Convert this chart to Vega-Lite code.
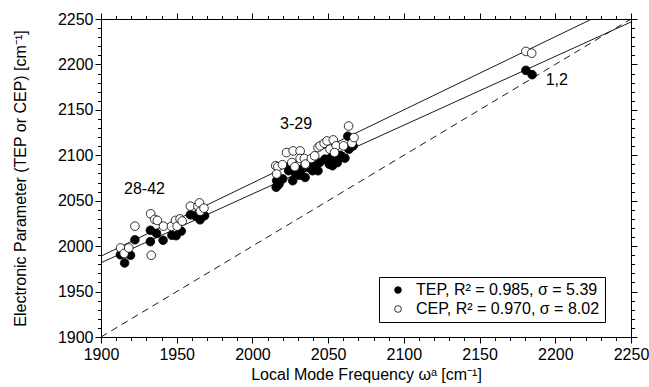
{
  "$schema": "https://vega.github.io/schema/vega-lite/v6.json",
  "width": 530,
  "height": 318,
  "autosize": "none",
  "padding": {"left": 101, "top": 19, "right": 18, "bottom": 50},
  "config": {
    "font": "Liberation Sans",
    "view": {"stroke": null},
    "axis": {"grid": false, "domainColor": "black", "tickColor": "black", "labelColor": "black", "titleColor": "black", "labelFontSize": 16, "titleFontSize": 16, "titleFontWeight": "normal", "labelFlush": false, "labelOverlap": false, "labelBound": false, "domainWidth": 1, "tickWidth": 1, "format": "d"}
  },
  "datasets": {
    "diag": [{"x": 1900, "y": 1900}, {"x": 2250, "y": 2250}],
    "fits": [
      {"s": "TEP", "x": 1900, "y": 1981.7},
      {"s": "TEP", "x": 2250, "y": 2246.7},
      {"s": "CEP", "x": 1900, "y": 1989},
      {"s": "CEP", "x": 2224.2, "y": 2250}
    ],
    "pts": [
      {"s": "TEP", "x": 1912.8, "y": 1990.5},
      {"s": "TEP", "x": 1915.6, "y": 1981.5},
      {"s": "TEP", "x": 1919.5, "y": 1990},
      {"s": "TEP", "x": 1922.4, "y": 2007},
      {"s": "TEP", "x": 1932.6, "y": 2005},
      {"s": "TEP", "x": 1932.6, "y": 2017.5},
      {"s": "TEP", "x": 1936.7, "y": 2014},
      {"s": "TEP", "x": 1941, "y": 2006.5},
      {"s": "TEP", "x": 1946.8, "y": 2012},
      {"s": "TEP", "x": 1949.6, "y": 2011.5},
      {"s": "TEP", "x": 1953, "y": 2016.5},
      {"s": "TEP", "x": 1959, "y": 2034.5},
      {"s": "TEP", "x": 1962.6, "y": 2033},
      {"s": "TEP", "x": 1965.4, "y": 2029},
      {"s": "TEP", "x": 1968.4, "y": 2033.5},
      {"s": "TEP", "x": 2015.7, "y": 2064.8},
      {"s": "TEP", "x": 2016, "y": 2072},
      {"s": "TEP", "x": 2017.5, "y": 2068},
      {"s": "TEP", "x": 2020, "y": 2074},
      {"s": "TEP", "x": 2023.9, "y": 2083},
      {"s": "TEP", "x": 2024.7, "y": 2088},
      {"s": "TEP", "x": 2026.6, "y": 2072},
      {"s": "TEP", "x": 2028, "y": 2081},
      {"s": "TEP", "x": 2031, "y": 2078},
      {"s": "TEP", "x": 2032.9, "y": 2085},
      {"s": "TEP", "x": 2034.8, "y": 2075.7},
      {"s": "TEP", "x": 2037, "y": 2086.7},
      {"s": "TEP", "x": 2039.7, "y": 2083},
      {"s": "TEP", "x": 2041.1, "y": 2088.5},
      {"s": "TEP", "x": 2043.3, "y": 2083},
      {"s": "TEP", "x": 2044.4, "y": 2092},
      {"s": "TEP", "x": 2047.9, "y": 2095.8},
      {"s": "TEP", "x": 2050.7, "y": 2090.3},
      {"s": "TEP", "x": 2052, "y": 2097.6},
      {"s": "TEP", "x": 2052.9, "y": 2088.5},
      {"s": "TEP", "x": 2054.2, "y": 2095.8},
      {"s": "TEP", "x": 2056.1, "y": 2092},
      {"s": "TEP", "x": 2058, "y": 2100},
      {"s": "TEP", "x": 2061.1, "y": 2096.9},
      {"s": "TEP", "x": 2063, "y": 2121},
      {"s": "TEP", "x": 2063.8, "y": 2106.7},
      {"s": "TEP", "x": 2066.5, "y": 2110.4},
      {"s": "TEP", "x": 2180.6, "y": 2193.5},
      {"s": "TEP", "x": 2184.7, "y": 2188.7},
      {"s": "CEP", "x": 1912.9, "y": 1998},
      {"s": "CEP", "x": 1915.3, "y": 1992},
      {"s": "CEP", "x": 1918.3, "y": 1998},
      {"s": "CEP", "x": 1922.4, "y": 2022},
      {"s": "CEP", "x": 1932.8, "y": 2035.6},
      {"s": "CEP", "x": 1933.2, "y": 1990},
      {"s": "CEP", "x": 1935.5, "y": 2029.4},
      {"s": "CEP", "x": 1937.2, "y": 2028.3},
      {"s": "CEP", "x": 1941.3, "y": 2022},
      {"s": "CEP", "x": 1946.5, "y": 2021.8},
      {"s": "CEP", "x": 1949.2, "y": 2028.3},
      {"s": "CEP", "x": 1950.3, "y": 2022},
      {"s": "CEP", "x": 1952.2, "y": 2030},
      {"s": "CEP", "x": 1953.6, "y": 2027.6},
      {"s": "CEP", "x": 1959, "y": 2044},
      {"s": "CEP", "x": 1964, "y": 2044},
      {"s": "CEP", "x": 1965, "y": 2047.6},
      {"s": "CEP", "x": 1965.6, "y": 2038.5},
      {"s": "CEP", "x": 1968, "y": 2041.8},
      {"s": "CEP", "x": 2015.4, "y": 2088.5},
      {"s": "CEP", "x": 2016.8, "y": 2087.4},
      {"s": "CEP", "x": 2016, "y": 2079.4},
      {"s": "CEP", "x": 2019.8, "y": 2089.6},
      {"s": "CEP", "x": 2022.5, "y": 2103},
      {"s": "CEP", "x": 2026, "y": 2092},
      {"s": "CEP", "x": 2026.9, "y": 2104.8},
      {"s": "CEP", "x": 2028, "y": 2087.4},
      {"s": "CEP", "x": 2031.5, "y": 2104.8},
      {"s": "CEP", "x": 2031.5, "y": 2096.5},
      {"s": "CEP", "x": 2034.3, "y": 2096.5},
      {"s": "CEP", "x": 2035, "y": 2090.3},
      {"s": "CEP", "x": 2038.9, "y": 2096.5},
      {"s": "CEP", "x": 2041.1, "y": 2099.4},
      {"s": "CEP", "x": 2043.3, "y": 2108.5},
      {"s": "CEP", "x": 2044.7, "y": 2110.4},
      {"s": "CEP", "x": 2047.4, "y": 2113.3},
      {"s": "CEP", "x": 2049.3, "y": 2115.8},
      {"s": "CEP", "x": 2051.2, "y": 2106.7},
      {"s": "CEP", "x": 2053.4, "y": 2116.9},
      {"s": "CEP", "x": 2055.3, "y": 2110.4},
      {"s": "CEP", "x": 2054.2, "y": 2103},
      {"s": "CEP", "x": 2060.2, "y": 2110.4},
      {"s": "CEP", "x": 2063.5, "y": 2132.2},
      {"s": "CEP", "x": 2065.7, "y": 2113.3},
      {"s": "CEP", "x": 2067.1, "y": 2119.5},
      {"s": "CEP", "x": 2180.6, "y": 2214.3},
      {"s": "CEP", "x": 2184.4, "y": 2212.4}
    ],
    "notes": [
      {"label": "28-42", "x": 1928.7, "y": 2063},
      {"label": "3-29", "x": 2028.8, "y": 2134},
      {"label": "1,2", "x": 2201, "y": 2183}
    ]
  },
  "resolve": {"axis": {"x": "independent", "y": "independent"}},
  "layer": [
    {
      "data": {"name": "diag"},
      "mark": {"type": "line", "color": "black", "strokeWidth": 0.9, "strokeDash": [7, 5], "clip": true},
      "encoding": {
        "x": {"field": "x", "type": "quantitative", "scale": {"domain": [1900, 2250], "nice": false, "zero": false},
          "axis": {"orient": "bottom", "values": [1900, 1950, 2000, 2050, 2100, 2150, 2200, 2250], "tickSize": 6, "labelPadding": 3, "title": "Local Mode Frequency ωᵃ [cm⁻¹]", "titlePadding": 4}},
        "y": {"field": "y", "type": "quantitative", "scale": {"domain": [1900, 2250], "nice": false, "zero": false},
          "axis": {"orient": "left", "values": [1900, 1950, 2000, 2050, 2100, 2150, 2200, 2250], "tickSize": 6, "labelPadding": 2, "title": "Electronic Parameter (TEP or CEP) [cm⁻¹]", "titlePadding": 29}}
      }
    },
    {
      "data": {"name": "fits"},
      "mark": {"type": "line", "color": "black", "strokeWidth": 0.9, "clip": true},
      "encoding": {
        "detail": {"field": "s", "type": "nominal"},
        "x": {"field": "x", "type": "quantitative",
          "axis": {"orient": "bottom", "values": [1900,1910,1920,1930,1940,1950,1960,1970,1980,1990,2000,2010,2020,2030,2040,2050,2060,2070,2080,2090,2100,2110,2120,2130,2140,2150,2160,2170,2180,2190,2200,2210,2220,2230,2240,2250], "tickSize": 3.5, "labels": false, "domain": false, "title": null}},
        "y": {"field": "y", "type": "quantitative",
          "axis": {"orient": "left", "values": [1900,1910,1920,1930,1940,1950,1960,1970,1980,1990,2000,2010,2020,2030,2040,2050,2060,2070,2080,2090,2100,2110,2120,2130,2140,2150,2160,2170,2180,2190,2200,2210,2220,2230,2240,2250], "tickSize": 3.5, "labels": false, "domain": false, "title": null}}
      }
    },
    {
      "data": {"name": "pts"},
      "mark": {"type": "point", "shape": "circle", "filled": true, "size": 75, "stroke": "black", "strokeWidth": 0.8, "opacity": 1, "fillOpacity": 1},
      "encoding": {
        "x": {"field": "x", "type": "quantitative",
          "axis": {"orient": "top", "values": [1900, 1950, 2000, 2050, 2100, 2150, 2200, 2250], "tickSize": 6, "labels": false, "title": null}},
        "y": {"field": "y", "type": "quantitative",
          "axis": {"orient": "right", "values": [1900, 1950, 2000, 2050, 2100, 2150, 2200, 2250], "tickSize": 6, "labels": false, "title": null}},
        "fill": {"field": "s", "type": "nominal", "scale": {"domain": ["TEP", "CEP"], "range": ["black", "white"]},
          "legend": {"title": null, "orient": "none", "legendX": 278, "legendY": 258, "strokeColor": "black", "fillColor": "white", "padding": 5, "symbolOffset": 6, "labelOffset": 10, "rowPadding": 3, "labelFontSize": 16, "labelColor": "black", "symbolType": "circle", "symbolSize": 45, "symbolStrokeColor": "black", "symbolStrokeWidth": 0.8, "labelLimit": 400,
            "labelExpr": "datum.label == 'TEP' ? 'TEP, R² = 0.985, σ = 5.39' : 'CEP, R² = 0.970, σ = 8.02'"}}
      }
    },
    {
      "data": {"name": "notes"},
      "mark": {"type": "text", "fontSize": 16, "color": "black", "align": "center", "baseline": "middle"},
      "encoding": {
        "text": {"field": "label", "type": "nominal"},
        "x": {"field": "x", "type": "quantitative",
          "axis": {"orient": "top", "values": [1900,1910,1920,1930,1940,1950,1960,1970,1980,1990,2000,2010,2020,2030,2040,2050,2060,2070,2080,2090,2100,2110,2120,2130,2140,2150,2160,2170,2180,2190,2200,2210,2220,2230,2240,2250], "tickSize": 3.5, "labels": false, "domain": false, "title": null}},
        "y": {"field": "y", "type": "quantitative",
          "axis": {"orient": "right", "values": [1900,1910,1920,1930,1940,1950,1960,1970,1980,1990,2000,2010,2020,2030,2040,2050,2060,2070,2080,2090,2100,2110,2120,2130,2140,2150,2160,2170,2180,2190,2200,2210,2220,2230,2240,2250], "tickSize": 3.5, "labels": false, "domain": false, "title": null}}
      }
    }
  ]
}
